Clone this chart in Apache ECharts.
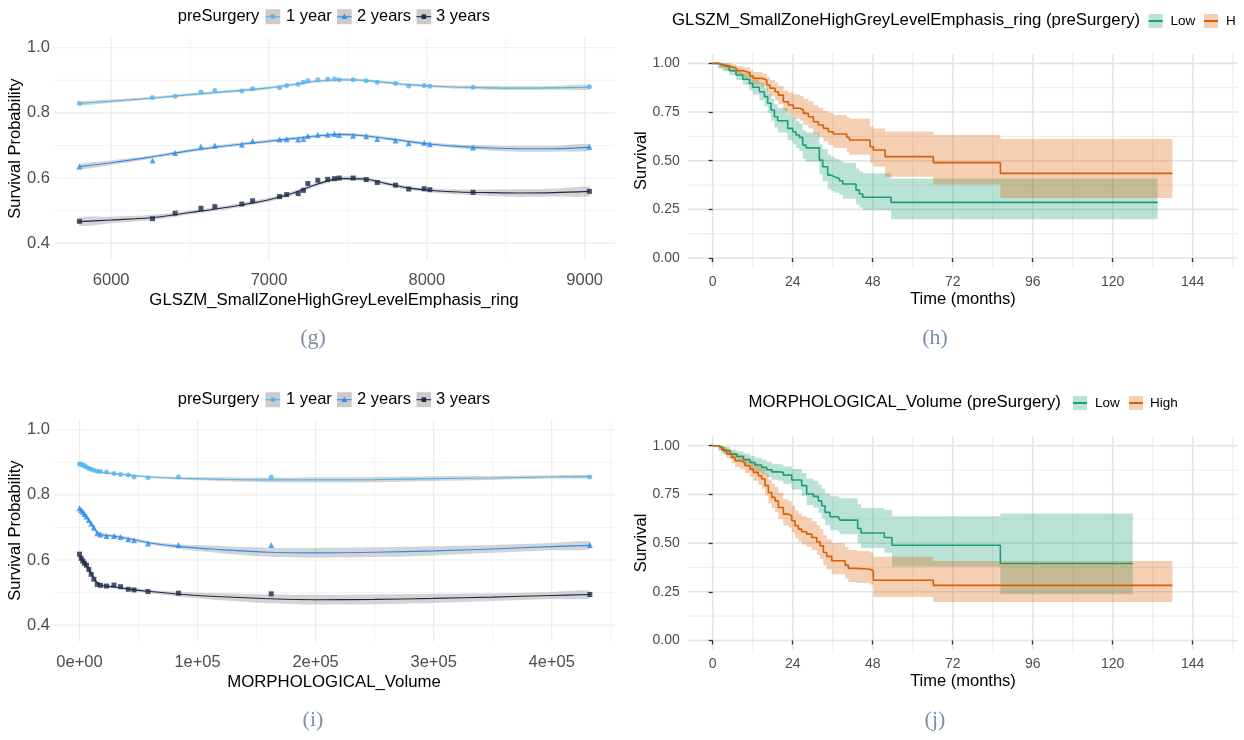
<!DOCTYPE html>
<html><head><meta charset="utf-8">
<script src="https://cdn.jsdelivr.net/npm/echarts@6/dist/echarts.min.js"></script>
<style>html,body{margin:0;padding:0;background:#fff}#c{width:1244px;height:740px}</style>
</head><body><div id="c"></div>
<script>
// ---------- Panel (g): GLSZM_SmallZoneHighGreyLevelEmphasis_ring ----------
const gX  = [5799, 6262, 6405, 6569, 6657, 6828, 6896, 7067, 7112, 7185, 7218, 7246, 7309, 7372, 7415, 7445, 7533, 7616, 7686, 7802, 7885, 7983, 8019, 8293, 9030];
const gY1 = [0.829, 0.847, 0.851, 0.864, 0.869, 0.867, 0.874, 0.877, 0.884, 0.888, 0.894, 0.899, 0.902, 0.903, 0.904, 0.902, 0.902, 0.899, 0.894, 0.890, 0.883, 0.884, 0.882, 0.879, 0.880];
const gY2 = [0.635, 0.654, 0.677, 0.697, 0.700, 0.702, 0.714, 0.718, 0.719, 0.718, 0.720, 0.729, 0.733, 0.733, 0.735, 0.732, 0.730, 0.728, 0.720, 0.715, 0.707, 0.708, 0.704, 0.694, 0.696];
const gY3 = [0.467, 0.475, 0.492, 0.507, 0.512, 0.520, 0.530, 0.543, 0.549, 0.552, 0.562, 0.583, 0.593, 0.596, 0.598, 0.600, 0.600, 0.595, 0.586, 0.578, 0.566, 0.567, 0.564, 0.556, 0.559];
const gSX = [5800, 6000, 6250, 6500, 6750, 7000, 7150, 7300, 7450, 7600, 7750, 7900, 8050, 8200, 8400, 8600, 8800, 9030];
const gS1 = [0.829, 0.836, 0.845, 0.856, 0.866, 0.877, 0.887, 0.897, 0.902, 0.900, 0.893, 0.886, 0.882, 0.879, 0.877, 0.876, 0.877, 0.879];
const gS2 = [0.635, 0.647, 0.664, 0.684, 0.700, 0.713, 0.721, 0.729, 0.734, 0.730, 0.721, 0.711, 0.703, 0.697, 0.692, 0.690, 0.690, 0.694];
const gS3 = [0.466, 0.471, 0.478, 0.494, 0.511, 0.533, 0.553, 0.580, 0.598, 0.597, 0.582, 0.568, 0.561, 0.557, 0.555, 0.554, 0.555, 0.559];
const gW1 = [0.006, 0.005, 0.004, 0.004, 0.004, 0.004, 0.004, 0.004, 0.004, 0.004, 0.004, 0.004, 0.004, 0.005, 0.006, 0.006, 0.006, 0.007];
const gW2 = [0.008, 0.007, 0.005, 0.005, 0.005, 0.005, 0.005, 0.005, 0.005, 0.005, 0.005, 0.005, 0.005, 0.006, 0.008, 0.009, 0.009, 0.010];
const gW3 = [0.013, 0.010, 0.008, 0.006, 0.006, 0.006, 0.006, 0.006, 0.006, 0.006, 0.006, 0.006, 0.006, 0.008, 0.010, 0.012, 0.012, 0.014];
const gXTicks = [6000, 7000, 8000, 9000], gXLabels = ['6000', '7000', '8000', '9000'], gXMinor = [6500, 7500, 8500];
const pYTicks = [0.4, 0.6, 0.8, 1.0], pYLabels = ['0.4', '0.6', '0.8', '1.0'], pYMinor = [0.5, 0.7, 0.9];

// ---------- Panel (i): MORPHOLOGICAL_Volume ----------
const iX  = [0, 1400, 2800, 4200, 5900, 7900, 9900, 12200, 15000, 17800, 22900, 29200, 34800, 41300, 46200, 58000, 83800, 162400, 432300];
const iY1 = [0.895, 0.894, 0.892, 0.889, 0.886, 0.881, 0.879, 0.876, 0.873, 0.872, 0.870, 0.866, 0.863, 0.861, 0.855, 0.853, 0.855, 0.854, 0.855];
const iY2 = [0.759, 0.753, 0.748, 0.741, 0.734, 0.723, 0.712, 0.700, 0.682, 0.678, 0.674, 0.674, 0.671, 0.664, 0.661, 0.651, 0.646, 0.646, 0.646];
const iY3 = [0.618, 0.605, 0.597, 0.590, 0.584, 0.571, 0.556, 0.541, 0.525, 0.522, 0.520, 0.523, 0.518, 0.510, 0.508, 0.503, 0.498, 0.496, 0.494];
const iSX = [0, 5000, 10000, 15000, 20000, 30000, 45000, 60000, 85000, 120000, 160000, 200000, 250000, 300000, 350000, 400000, 432300];
const iS1 = [0.895, 0.887, 0.879, 0.873, 0.869, 0.865, 0.860, 0.855, 0.851, 0.848, 0.846, 0.846, 0.847, 0.850, 0.852, 0.855, 0.856];
const iS2 = [0.758, 0.737, 0.711, 0.685, 0.677, 0.673, 0.663, 0.652, 0.641, 0.632, 0.624, 0.622, 0.624, 0.628, 0.634, 0.641, 0.645];
const iS3 = [0.614, 0.587, 0.558, 0.530, 0.521, 0.517, 0.509, 0.503, 0.495, 0.487, 0.481, 0.478, 0.479, 0.482, 0.486, 0.491, 0.494];
const iW1 = [0.004, 0.003, 0.003, 0.003, 0.003, 0.003, 0.003, 0.003, 0.004, 0.006, 0.007, 0.008, 0.008, 0.007, 0.006, 0.005, 0.005];
const iW2 = [0.006, 0.005, 0.005, 0.005, 0.005, 0.005, 0.005, 0.005, 0.007, 0.011, 0.014, 0.015, 0.015, 0.014, 0.012, 0.011, 0.012];
const iW3 = [0.006, 0.005, 0.005, 0.005, 0.005, 0.005, 0.005, 0.005, 0.007, 0.011, 0.014, 0.015, 0.015, 0.014, 0.012, 0.011, 0.012];
const iXTicks = [0, 100000, 200000, 300000, 400000], iXLabels = ['0e+00', '1e+05', '2e+05', '3e+05', '4e+05'];
const iXMinor = [50000, 150000, 250000, 350000, 450000];

// ---------- Panel (h): KM by GLSZM group ----------
const hLowT  = [0, 1.5, 3, 5, 7, 9, 11, 12, 14, 15.5, 16.5, 17.5, 18.5, 19.5, 22.5, 24, 25, 26, 27, 28, 32, 33, 34.5, 35.5, 36.5, 38, 39, 43, 44, 45, 53.5];
const hLowS  = [1, 0.99, 0.983, 0.962, 0.94, 0.918, 0.897, 0.877, 0.854, 0.829, 0.795, 0.76, 0.726, 0.705, 0.666, 0.649, 0.632, 0.62, 0.58, 0.566, 0.503, 0.469, 0.426, 0.418, 0.409, 0.397, 0.38, 0.349, 0.329, 0.312, 0.286];
const hLowLo = [1, 0.975, 0.96, 0.94, 0.915, 0.89, 0.86, 0.84, 0.81, 0.78, 0.745, 0.705, 0.67, 0.645, 0.605, 0.585, 0.565, 0.55, 0.51, 0.495, 0.43, 0.395, 0.355, 0.345, 0.335, 0.325, 0.305, 0.275, 0.26, 0.245, 0.199];
const hLowHi = [1, 1, 1, 0.985, 0.97, 0.95, 0.935, 0.915, 0.9, 0.875, 0.85, 0.82, 0.79, 0.77, 0.735, 0.72, 0.705, 0.69, 0.655, 0.645, 0.585, 0.56, 0.53, 0.52, 0.51, 0.5, 0.49, 0.46, 0.445, 0.435, 0.409];
const hLowEnd = 133.5;
const hHighT  = [0, 2, 3.7, 5.7, 7.2, 9.2, 11.2, 12.2, 14.7, 16.2, 17.2, 18.7, 19.7, 21.2, 22.7, 24.2, 26.2, 27.2, 28.7, 30.2, 31.7, 33.2, 34.7, 36.2, 40.2, 41, 47.2, 48.2, 51.7, 66.2, 86.3];
const hHighS  = [1, 0.99, 0.983, 0.974, 0.962, 0.952, 0.935, 0.923, 0.914, 0.889, 0.872, 0.854, 0.837, 0.803, 0.786, 0.769, 0.76, 0.743, 0.726, 0.70, 0.683, 0.666, 0.649, 0.637, 0.62, 0.606, 0.572, 0.555, 0.521, 0.49, 0.435];
const hHighLo = [1, 0.975, 0.965, 0.955, 0.94, 0.925, 0.905, 0.89, 0.88, 0.85, 0.83, 0.81, 0.79, 0.755, 0.735, 0.715, 0.705, 0.685, 0.665, 0.64, 0.62, 0.60, 0.58, 0.565, 0.545, 0.53, 0.49, 0.47, 0.418, 0.378, 0.308];
const hHighHi = [1, 1, 1, 0.993, 0.985, 0.978, 0.965, 0.955, 0.948, 0.93, 0.915, 0.9, 0.885, 0.86, 0.85, 0.84, 0.832, 0.818, 0.805, 0.785, 0.772, 0.755, 0.745, 0.735, 0.725, 0.715, 0.675, 0.665, 0.65, 0.632, 0.611];
const hHighEnd = 137.9;

// ---------- Panel (j): KM by MORPHOLOGICAL_Volume group ----------
const jLowT  = [0, 1.7, 3.2, 5.2, 7.2, 9.2, 11.2, 12.7, 14.7, 16.2, 17.7, 19.7, 21.2, 23.7, 26.7, 28.2, 30.2, 31.7, 32.7, 33.7, 35.2, 37.7, 38.2, 43.5, 44.5, 51.5, 53.8, 86.3];
const jLowS  = [1, 0.99, 0.974, 0.957, 0.945, 0.928, 0.914, 0.901, 0.889, 0.877, 0.866, 0.863, 0.849, 0.824, 0.795, 0.752, 0.74, 0.717, 0.692, 0.658, 0.635, 0.627, 0.618, 0.575, 0.552, 0.529, 0.489, 0.395];
const jLowLo = [1, 0.975, 0.955, 0.935, 0.92, 0.9, 0.882, 0.866, 0.852, 0.838, 0.825, 0.82, 0.805, 0.775, 0.742, 0.695, 0.682, 0.656, 0.628, 0.592, 0.566, 0.556, 0.546, 0.5, 0.475, 0.45, 0.38, 0.237];
const jLowHi = [1, 1, 0.993, 0.98, 0.972, 0.96, 0.948, 0.938, 0.928, 0.918, 0.908, 0.905, 0.894, 0.88, 0.86, 0.83, 0.82, 0.80, 0.78, 0.755, 0.74, 0.735, 0.73, 0.70, 0.68, 0.67, 0.638, 0.652];
const jLowEnd = 126;
const jHighT  = [0, 1.7, 2.7, 4.2, 5.7, 6.7, 8.2, 9.7, 11.2, 12.2, 13.7, 14.7, 15.7, 16.7, 17.7, 18.7, 19.7, 21.2, 22.7, 23.7, 24.7, 25.7, 26.7, 28.2, 29.7, 31.2, 32.2, 33.2, 34.2, 35.7, 39.7, 40.7, 43.2, 47.2, 48.2, 66.2];
const jHighS  = [1, 0.991, 0.979, 0.957, 0.94, 0.923, 0.914, 0.897, 0.88, 0.863, 0.846, 0.829, 0.795, 0.76, 0.735, 0.717, 0.683, 0.649, 0.64, 0.615, 0.589, 0.572, 0.558, 0.546, 0.529, 0.507, 0.486, 0.452, 0.432, 0.409, 0.387, 0.37, 0.366, 0.358, 0.309, 0.283];
const jHighLo = [1, 0.978, 0.96, 0.935, 0.91, 0.89, 0.88, 0.86, 0.84, 0.82, 0.80, 0.78, 0.745, 0.705, 0.68, 0.66, 0.625, 0.59, 0.58, 0.555, 0.525, 0.508, 0.493, 0.48, 0.463, 0.44, 0.418, 0.385, 0.365, 0.34, 0.318, 0.30, 0.295, 0.287, 0.223, 0.197];
const jHighHi = [1, 1, 0.995, 0.982, 0.97, 0.96, 0.952, 0.94, 0.926, 0.912, 0.898, 0.884, 0.856, 0.826, 0.803, 0.788, 0.758, 0.725, 0.716, 0.693, 0.668, 0.652, 0.638, 0.627, 0.612, 0.592, 0.572, 0.54, 0.52, 0.5, 0.48, 0.465, 0.46, 0.452, 0.43, 0.408];
const jHighEnd = 137.9;

const kmXTicks = [0, 24, 48, 72, 96, 120, 144], kmXLabels = ['0', '24', '48', '72', '96', '120', '144'], kmXMinor = [12, 36, 60, 84, 108, 132, 156];
const kmYTicks = [0, 0.25, 0.5, 0.75, 1], kmYLabels = ['0.00', '0.25', '0.50', '0.75', '1.00'], kmYMinor = [0.125, 0.375, 0.625, 0.875];

// ---------- styling ----------
const FONT = '"Liberation Sans", Arial, Helvetica, sans-serif';
const SERIF = '"Liberation Serif", "DejaVu Serif", serif';
const C1 = '#55b5ef', C2 = '#2b8def', C3 = '#1b2b4b';
const GREEN = '#1b9e77', ORANGE = '#d95f02';
const GREEN_F = 'rgba(27,158,119,0.3)', ORANGE_F = 'rgba(217,95,2,0.3)';

function fmtFrom(ticks, labels) {
  return function (v) {
    for (let k = 0; k < ticks.length; k++) if (Math.abs(ticks[k] - v) < 1e-6 * Math.max(1, Math.abs(ticks[k]))) return labels[k];
    return '';
  };
}

function gridSeries(gi, xMaj, xMin, yMaj, yMin, xRef, yRef, majStyle, minStyle) {
  const items = [];
  xMin.forEach(v => items.push([v, yRef, 0, 1]));
  yMin.forEach(v => items.push([xRef, v, 1, 1]));
  xMaj.forEach(v => items.push([v, yRef, 0, 0]));
  yMaj.forEach(v => items.push([xRef, v, 1, 0]));
  return {
    type: 'custom', xAxisIndex: gi, yAxisIndex: gi, z: 0, silent: true, data: items,
    renderItem(params, api) {
      const cs = params.coordSys;
      const p = api.coord([api.value(0), api.value(1)]);
      const st = api.value(3) === 1 ? minStyle : majStyle;
      const shape = api.value(2) === 0
        ? { x1: p[0], y1: cs.y, x2: p[0], y2: cs.y + cs.height }
        : { x1: cs.x, y1: p[1], x2: cs.x + cs.width, y2: p[1] };
      return { type: 'line', shape, style: { stroke: st[0], lineWidth: st[1] } };
    }
  };
}

function ribbon(gi, xs, ys, ws) {
  return {
    type: 'custom', xAxisIndex: gi, yAxisIndex: gi, z: 1, silent: true, data: [[xs[0], ys[0]]],
    renderItem(params, api) {
      const up = [], dn = [];
      for (let k = 0; k < xs.length; k++) {
        up.push(api.coord([xs[k], ys[k] + ws[k]]));
        dn.push(api.coord([xs[k], ys[k] - ws[k]]));
      }
      return { type: 'polygon', shape: { points: up.concat(dn.reverse()), smooth: 0.25 }, style: { fill: 'rgba(153,153,153,0.42)' } };
    }
  };
}

function smoothLine(gi, xs, ys, color) {
  return {
    type: 'line', xAxisIndex: gi, yAxisIndex: gi, z: 3, silent: true, smooth: 0.35, symbol: 'none',
    data: xs.map((x, k) => [x, ys[k]]), lineStyle: { color, width: 1.1 }
  };
}

function points(gi, xs, ys, color, symbol, size) {
  return {
    type: 'scatter', xAxisIndex: gi, yAxisIndex: gi, z: 4, silent: true, symbol, symbolSize: size,
    data: xs.map((x, k) => [x, ys[k]]), itemStyle: { color }
  };
}

function kmBand(gi, t, lo, hi, tEnd, fill) {
  return {
    type: 'custom', xAxisIndex: gi, yAxisIndex: gi, z: 1, silent: true, data: [[t[0], lo[0]]],
    renderItem(params, api) {
      const up = [], dn = [];
      for (let k = 0; k < t.length; k++) {
        const t2 = k < t.length - 1 ? t[k + 1] : tEnd;
        up.push(api.coord([t[k], hi[k]]), api.coord([t2, hi[k]]));
        dn.push(api.coord([t[k], lo[k]]), api.coord([t2, lo[k]]));
      }
      return { type: 'polygon', shape: { points: up.concat(dn.reverse()) }, style: { fill } };
    }
  };
}

function kmLine(gi, t, s, tEnd, color) {
  const d = t.map((v, k) => [v, s[k]]);
  d.push([tEnd, s[s.length - 1]]);
  return { type: 'line', xAxisIndex: gi, yAxisIndex: gi, z: 3, silent: true, step: 'end', symbol: 'none', data: d, lineStyle: { color, width: 1.6 } };
}

// axes
const tickLblG = { fontSize: 16.5, fontFamily: FONT, color: '#4d4d4d' };
const tickLblK = { fontSize: 14, fontFamily: FONT, color: '#4d4d4d' };
function valAxis(gi, min, max, ticks, labels, lbl, margin, showTicks) {
  return {
    gridIndex: gi, type: 'value', min, max, scale: true,
    axisLine: { show: false }, splitLine: { show: false },
    axisTick: showTicks ? { show: true, customValues: ticks, length: 4, lineStyle: { color: '#333', width: 1.3 } } : { show: false },
    axisLabel: Object.assign({ customValues: ticks, formatter: fmtFrom(ticks, labels), margin, showMinLabel: true, showMaxLabel: true }, lbl)
  };
}

const grids = [
  { left: 54, top: 37.7, width: 561, height: 222 },     // g
  { left: 687.7, top: 53.6, width: 550, height: 214.2 }, // h
  { left: 54, top: 419.7, width: 561, height: 222 },    // i
  { left: 687.7, top: 436, width: 550, height: 214.2 }  // j
];

const xAxes = [
  valAxis(0, 5638, 9192, gXTicks, gXLabels, tickLblG, 12, false),
  valAxis(1, -7.5, 157.5, kmXTicks, kmXLabels, tickLblK, 7, true),
  valAxis(2, -21600, 453600, iXTicks, iXLabels, tickLblG, 12, false),
  valAxis(3, -7.5, 157.5, kmXTicks, kmXLabels, tickLblK, 7, true)
];
const yAxes = [
  valAxis(0, 0.349, 1.031, pYTicks, pYLabels, tickLblG, 4, false),
  valAxis(1, -0.05, 1.05, kmYTicks, kmYLabels, tickLblK, 8, true),
  valAxis(2, 0.349, 1.031, pYTicks, pYLabels, tickLblG, 4, false),
  valAxis(3, -0.05, 1.05, kmYTicks, kmYLabels, tickLblK, 8, true)
];

const gMaj = ['#ebebeb', 1.1], gMin = ['#f4f4f4', 1];
const kMaj = ['#e4e4e4', 1.6], kMin = ['#efefef', 1.2];

const series = [
  gridSeries(0, gXTicks, gXMinor, pYTicks, pYMinor, 6000, 0.5, gMaj, gMin),
  gridSeries(1, kmXTicks, kmXMinor, kmYTicks, kmYMinor, 0, 0.5, kMaj, kMin),
  gridSeries(2, iXTicks, iXMinor, pYTicks, pYMinor, 0, 0.5, gMaj, gMin),
  gridSeries(3, kmXTicks, kmXMinor, kmYTicks, kmYMinor, 0, 0.5, kMaj, kMin),
  // g
  ribbon(0, gSX, gS1, gW1), ribbon(0, gSX, gS2, gW2), ribbon(0, gSX, gS3, gW3),
  smoothLine(0, gSX, gS1, C1), smoothLine(0, gSX, gS2, C2), smoothLine(0, gSX, gS3, C3),
  points(0, gX, gY1, C1, 'circle', 5), points(0, gX, gY2, C2, 'triangle', 6), points(0, gX, gY3, C3, 'rect', 5),
  // i
  ribbon(2, iSX, iS1, iW1), ribbon(2, iSX, iS2, iW2), ribbon(2, iSX, iS3, iW3),
  smoothLine(2, iSX, iS1, C1), smoothLine(2, iSX, iS2, C2), smoothLine(2, iSX, iS3, C3),
  points(2, iX, iY1, C1, 'circle', 5), points(2, iX, iY2, C2, 'triangle', 6), points(2, iX, iY3, C3, 'rect', 5),
  // h
  kmBand(1, hLowT, hLowLo, hLowHi, hLowEnd, GREEN_F), kmBand(1, hHighT, hHighLo, hHighHi, hHighEnd, ORANGE_F),
  kmLine(1, hLowT, hLowS, hLowEnd, GREEN), kmLine(1, hHighT, hHighS, hHighEnd, ORANGE),
  // j
  kmBand(3, jLowT, jLowLo, jLowHi, jLowEnd, GREEN_F), kmBand(3, jHighT, jHighLo, jHighHi, jHighEnd, ORANGE_F),
  kmLine(3, jLowT, jLowS, jLowEnd, GREEN), kmLine(3, jHighT, jHighS, jHighEnd, ORANGE)
];

// ---------- text / legends (graphic) ----------
const els = [];
function txt(x, y, s, size, o) {
  o = o || {};
  els.push({
    type: 'text', x, y, rotation: o.rot || 0, silent: true, z: 10,
    style: { text: s, fontSize: size, fontFamily: o.font || FONT, fill: o.color || '#000', align: o.align || 'left', verticalAlign: 'middle' }
  });
}
function smoothKey(x, y, color, sym) {
  els.push({ type: 'rect', silent: true, z: 10, shape: { x, y: y - 7.5, width: 14.7, height: 15 }, style: { fill: '#cbcbcb' } });
  els.push({ type: 'line', silent: true, z: 11, shape: { x1: x, y1: y, x2: x + 14.7, y2: y }, style: { stroke: color, lineWidth: 1.1 } });
  const cx = x + 7.35;
  if (sym === 'circle') els.push({ type: 'circle', silent: true, z: 12, shape: { cx, cy: y, r: 2.4 }, style: { fill: color } });
  if (sym === 'triangle') els.push({ type: 'polygon', silent: true, z: 12, shape: { points: [[cx, y - 3], [cx - 3, y + 2.2], [cx + 3, y + 2.2]] }, style: { fill: color } });
  if (sym === 'rect') els.push({ type: 'rect', silent: true, z: 12, shape: { x: cx - 2.3, y: y - 2.3, width: 4.6, height: 4.6 }, style: { fill: color } });
}
function kmKey(x, y, color, fill) {
  els.push({ type: 'rect', silent: true, z: 10, shape: { x, y: y - 7, width: 14, height: 14 }, style: { fill } });
  els.push({ type: 'line', silent: true, z: 11, shape: { x1: x, y1: y, x2: x + 14, y2: y }, style: { stroke: color, lineWidth: 2 } });
}
function ggLegend(dy) {
  const y = 16.7 + dy;
  txt(177.7, y, 'preSurgery', 16.5);
  smoothKey(265.5, y, C1, 'circle'); txt(286, y, '1 year', 16.5);
  smoothKey(337, y, C2, 'triangle'); txt(357, y, '2 years', 16.5);
  smoothKey(416.5, y, C3, 'rect'); txt(436, y, '3 years', 16.5);
}
ggLegend(0); ggLegend(383);

txt(672, 20.5, 'GLSZM_SmallZoneHighGreyLevelEmphasis_ring (preSurgery)', 16.8);
kmKey(1148.6, 21, GREEN, GREEN_F); txt(1170.5, 21, 'Low', 13.5);
kmKey(1204, 21, ORANGE, ORANGE_F); txt(1226, 21, 'H', 13.5);

txt(748.5, 402.7, 'MORPHOLOGICAL_Volume (preSurgery)', 16.8);
kmKey(1073, 403, GREEN, GREEN_F); txt(1095, 403, 'Low', 13.5);
kmKey(1129, 403, ORANGE, ORANGE_F); txt(1150, 403, 'High', 13.5);

// axis titles
txt(334, 300, 'GLSZM_SmallZoneHighGreyLevelEmphasis_ring', 16.8, { align: 'center' });
txt(334, 682, 'MORPHOLOGICAL_Volume', 16.8, { align: 'center' });
txt(963, 299.5, 'Time (months)', 16.5, { align: 'center' });
txt(963, 681.7, 'Time (months)', 16.5, { align: 'center' });
txt(15, 148.6, 'Survival Probability', 16.5, { align: 'center', rot: Math.PI / 2 });
txt(15, 530.6, 'Survival Probability', 16.5, { align: 'center', rot: Math.PI / 2 });
txt(641, 160.6, 'Survival', 16.5, { align: 'center', rot: Math.PI / 2 });
txt(641, 543, 'Survival', 16.5, { align: 'center', rot: Math.PI / 2 });

// sub-figure labels
const SUB = '#7b91a9';
txt(313, 338, '(g)', 22, { align: 'center', font: SERIF, color: SUB });
txt(935, 338, '(h)', 22, { align: 'center', font: SERIF, color: SUB });
txt(313, 720, '(i)', 22, { align: 'center', font: SERIF, color: SUB });
txt(935, 720, '(j)', 22, { align: 'center', font: SERIF, color: SUB });

const chart = echarts.init(document.getElementById('c'), null, { renderer: 'canvas' });
chart.setOption({
  animation: false,
  backgroundColor: '#ffffff',
  grid: grids,
  xAxis: xAxes,
  yAxis: yAxes,
  series,
  graphic: { elements: els }
});
</script></body></html>
